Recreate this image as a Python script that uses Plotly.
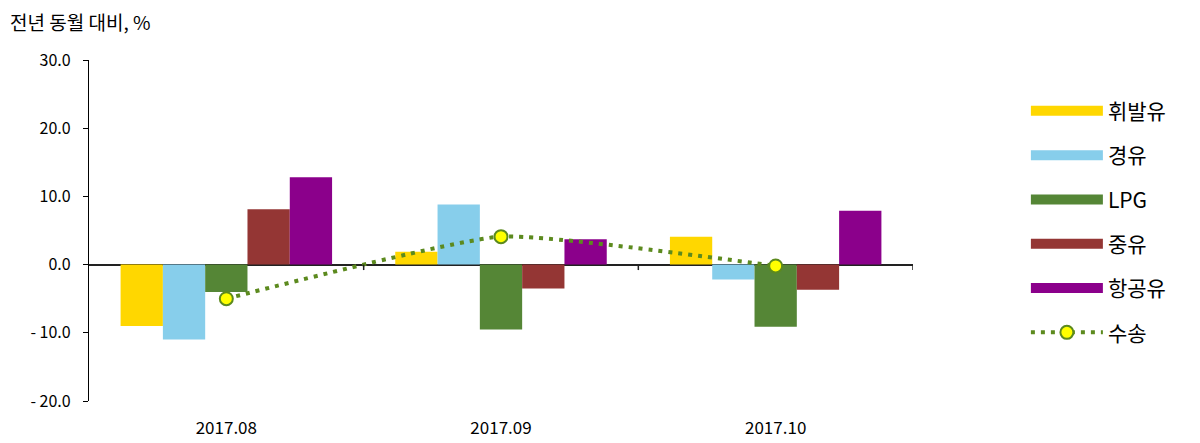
import plotly.graph_objects as go

months = ["2017.08", "2017.09", "2017.10"]
gasoline = [-9.0, 1.9, 4.1]      # 휘발유
diesel = [-11.0, 8.8, -2.2]      # 경유
lpg = [-4.0, -9.5, -9.1]         # LPG
fuel_oil = [8.1, -3.5, -3.7]     # 중유
jet_fuel = [12.8, 3.7, 7.9]      # 항공유
transport = [-5.0, 4.1, -0.2]    # 수송

series_names = ["휘발유", "경유", "LPG", "중유", "항공유"]
series_vals = [gasoline, diesel, lpg, fuel_oil, jet_fuel]
series_colors = ["#FFD700", "#87CEEB", "#558636", "#943634", "#8B008B"]

tick_vals = [30, 20, 10, 0, -10, -20]
tick_text = ["30.0", "20.0", "10.0", "0.0", "- 10.0", "- 20.0"]

FONT = "Noto Sans CJK KR, Malgun Gothic, sans-serif"

L, T, PW, PH = 81, 52, 824, 341

fig = go.Figure()

for name, vals, col in zip(series_names, series_vals, series_colors):
    fig.add_trace(go.Bar(
        x=months, y=vals, name=name, marker=dict(color=col, line=dict(width=0)),
        legendgroup=name, showlegend=False,
    ))
    # legend proxy (wide rectangle look)
    fig.add_trace(go.Scatter(
        x=[None], y=[None], mode="lines", name=name, legendgroup=name,
        line=dict(color=col, width=12),
    ))

fig.add_trace(go.Scatter(
    x=months, y=transport, name="수송", mode="lines+markers",
    line=dict(color="#5C8A1E", width=4, dash="4px,6px", shape="spline", smoothing=0.45),
    marker=dict(size=13, color="#FFFF00", line=dict(color="#5C8A1E", width=2)),
    legendgroup="수송",
))

# small category-boundary ticks on the zero line
for xb in [0.5, 1.5, 2.5]:
    fig.add_shape(type="line", xref="x", yref="y", x0=xb, x1=xb, y0=0, y1=-0.8,
                  line=dict(color="#222222", width=1.5))

fig.update_layout(
    width=1200, height=443,
    margin=dict(l=L, r=1200 - L - PW, t=T, b=443 - T - PH),
    plot_bgcolor="white", paper_bgcolor="white",
    font=dict(family=FONT, size=16, color="#000000"),
    barmode="group", bargap=0.23, bargroupgap=0,
    legend=dict(x=1.137, y=0.91, xanchor="left", yanchor="top",
                font=dict(size=21), itemwidth=72, tracegroupgap=14,
                bgcolor="rgba(0,0,0,0)"),
    annotations=[dict(text="전년 동월 대비, %", xref="paper", yref="paper",
                      x=-L / PW, y=1 + 39 / PH, xanchor="left", yanchor="middle",
                      showarrow=False, font=dict(size=19))],
)

fig.update_xaxes(type="category", showline=False, ticks="outside", ticklen=12,
                 tickcolor="rgba(0,0,0,0)", showgrid=False,
                 tickfont=dict(size=17), range=[-0.5, 2.5])
fig.update_yaxes(range=[-20, 30], tickvals=tick_vals, ticktext=tick_text,
                 showline=True, linecolor="#000000", linewidth=1.2,
                 ticks="outside", ticklen=5, tickcolor="#000000",
                 showgrid=False, zeroline=True, zerolinecolor="#222222",
                 zerolinewidth=1.5, tickfont=dict(size=16), ticklabelstandoff=9)

fig.write_html("out.html")
